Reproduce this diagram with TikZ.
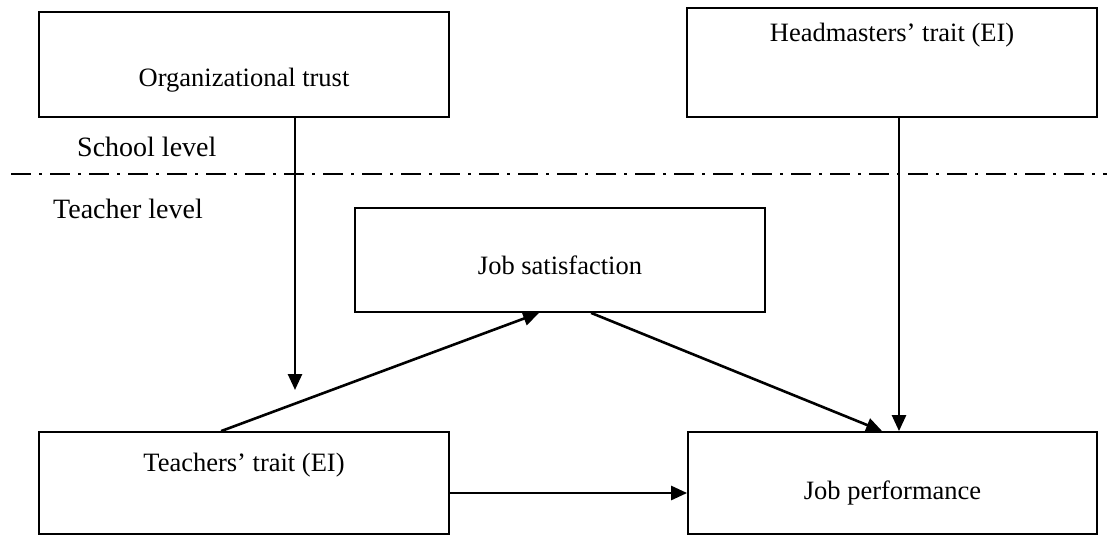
\documentclass[tikz,border=0pt]{standalone}
\usepackage{fontspec}
\setmainfont{Liberation Serif}
\usetikzlibrary{arrows.meta,calc}
\begin{document}
\begin{tikzpicture}[x=1pt,y=-1pt,
  box/.style={draw, line width=1.8pt, rectangle, inner sep=0pt, minimum width=410pt},
  boxtext/.style={font=\fontsize{26.5}{30}\selectfont, inner sep=0pt},
  lvl/.style={font=\fontsize{28}{32}\selectfont, inner sep=0pt, anchor=west},
  arr/.style={line width=2.6pt, -{Triangle[length=16pt,width=14pt]}},
  sep/.style={line width=2.2pt, dash pattern=on 20pt off 8pt on 3pt off 8pt}
]
\useasboundingbox (0,0) rectangle (1113,536);

\node[box, minimum height=105pt, label={[boxtext, yshift=-15.5pt]center:Organizational trust}] (org) at (244,64.5) {};
\node[box, minimum height=109pt, label={[boxtext, yshift=27.5pt]center:Headmasters’ trait (EI)}] (head) at (892,62.5) {};
\node[box, minimum height=104pt, label={[boxtext, yshift=-5pt]center:Job satisfaction}] (sat) at (560,260) {};
\node[box, minimum height=102pt, label={[boxtext, yshift=18pt]center:Teachers’ trait (EI)}] (teach) at (244,483) {};
\node[box, minimum width=409pt, minimum height=102pt, label={[boxtext, yshift=-10pt]center:Job performance}] (perf) at (892.5,483) {};

\node[lvl] (school) at (77,147) {School level};
\node[lvl] (teacherlvl) at (53,209) {Teacher level};

\coordinate (sepL) at (11,174);
\coordinate (sepR) at (1107,174);
\draw[sep] (sepL) -- (sepR);

\coordinate (orgend) at (295,390);
\draw[arr] (org.south -| orgend) -- (orgend);
\draw[arr] ($(head.south)+(7,0)$) -- ($(perf.north)+(6.5,0)$);
\draw[arr] ($(teach.north west)+(183,0)$) -- ($(sat.south west)+(185,0)$);
\draw[arr] ($(sat.south west)+(237,0)$) -- ($(perf.north west)+(195,0)$);
\draw[arr] ($(teach.east)+(0,10)$) -- ($(perf.west)+(0,10)$);
\end{tikzpicture}
\end{document}
